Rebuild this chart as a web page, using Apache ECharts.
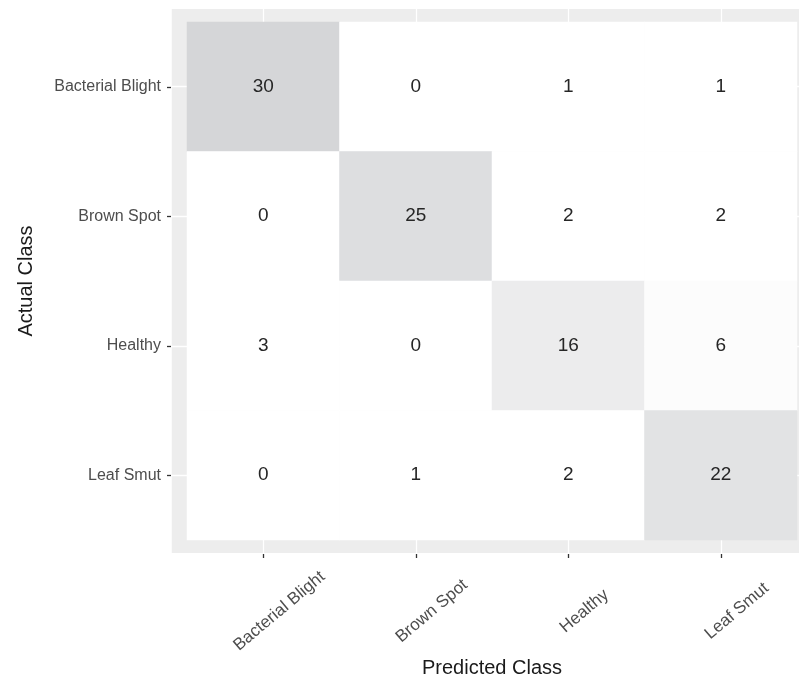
<!DOCTYPE html>
<html>
<head>
<meta charset="utf-8">
<script src="https://cdn.jsdelivr.net/npm/echarts@6/dist/echarts.min.js"></script>
<style>html,body{margin:0;padding:0;background:#fff}#chart{width:799px;height:681px}</style>
</head>
<body>
<div id="chart"></div>
<script>
// ---- data ----
var predictedClasses = ['Bacterial Blight', 'Brown Spot', 'Healthy', 'Leaf Smut'];
var actualClasses = ['Bacterial Blight', 'Brown Spot', 'Healthy', 'Leaf Smut'];
var rowBacterialBlight = [30, 0, 1, 1];
var rowBrownSpot = [0, 25, 2, 2];
var rowHealthy = [3, 0, 16, 6];
var rowLeafSmut = [0, 1, 2, 22];
var xTitle = 'Predicted Class';
var yTitle = 'Actual Class';

var rows = [rowBacterialBlight, rowBrownSpot, rowHealthy, rowLeafSmut];
var heatData = [];
rows.forEach(function (row, yi) {
  row.forEach(function (v, xi) { heatData.push([xi, yi, v]); });
});

// ---- layout ----
var FONT = '"Liberation Sans", Arial, sans-serif';
var cellL = 187, cellR = 797, cellT = 22, cellB = 540;
var uW = (cellR - cellL) / 4, uH = (cellB - cellT) / 4;
var padX = 0.1 * uW, padY = 0.1 * uH;
var panel = { left: cellL - padX, top: cellT - padY, width: (cellR - cellL) + 2 * padX, height: (cellB - cellT) + 2 * padY };
var tenths = Array.from({ length: 43 }, function (_, i) { return String(i); });
var gridFn = function (idx) { return idx >= 6 && (idx - 6) % 10 === 0; };

var chart = echarts.init(document.getElementById('chart'), null, { renderer: 'canvas' });
chart.setOption({
  backgroundColor: '#ffffff',
  animation: false,
  grid: [
    { left: panel.left, top: panel.top, width: panel.width, height: panel.height,
      show: true, backgroundColor: '#ededed', borderWidth: 0, containLabel: false, outerBoundsMode: 'none' },
    { left: cellL, top: cellT, width: cellR - cellL, height: cellB - cellT, show: false,
      containLabel: false, outerBoundsMode: 'none' }
  ],
  xAxis: [
    { gridIndex: 0, type: 'category', data: tenths, boundaryGap: false,
      axisLine: { show: false }, axisTick: { show: false }, axisLabel: { show: false },
      splitLine: { show: true, interval: gridFn, lineStyle: { color: '#ffffff', width: 1.3 } } },
    { gridIndex: 1, type: 'category', data: predictedClasses, position: 'bottom', offset: 14,
      axisLine: { show: false },
      axisTick: { show: true, alignWithLabel: true, length: 4, lineStyle: { color: '#333333', width: 1.3 } },
      splitLine: { show: false },
      axisLabel: { interval: 0, rotate: 40, align: 'center', verticalAlign: 'middle', margin: 38,
        lineHeight: 50, color: '#4d4d4d', fontSize: 17, fontFamily: FONT, hideOverlap: false,
        formatter: function (v) { return '\n' + v; } },
      name: xTitle, nameLocation: 'middle', nameGap: 104, nameMoveOverlap: false,
      nameTextStyle: { color: '#1a1a1a', fontSize: 20, fontFamily: FONT } }
  ],
  yAxis: [
    { gridIndex: 0, type: 'category', data: tenths, boundaryGap: false, inverse: true,
      axisLine: { show: false }, axisTick: { show: false }, axisLabel: { show: false },
      splitLine: { show: true, interval: gridFn, lineStyle: { color: '#ffffff', width: 1.3 } } },
    { gridIndex: 1, type: 'category', data: actualClasses, inverse: true, position: 'left', offset: 16,
      axisLine: { show: false },
      axisTick: { show: true, alignWithLabel: true, length: 4, lineStyle: { color: '#333333', width: 1.3 } },
      splitLine: { show: false },
      axisLabel: { interval: 0, margin: 10, color: '#4d4d4d', fontSize: 16, fontFamily: FONT },
      name: yTitle, nameLocation: 'middle', nameGap: 135, nameMoveOverlap: false,
      nameTextStyle: { color: '#1a1a1a', fontSize: 20, fontFamily: FONT } }
  ],
  visualMap: {
    type: 'continuous', show: false, min: 4, max: 30, seriesIndex: 0,
    inRange: { color: ['#ffffff', '#d5d6d8'] },
    outOfRange: { color: '#ffffff' }
  },
  series: [{
    type: 'heatmap', xAxisIndex: 1, yAxisIndex: 1, data: heatData,
    label: { show: true, color: '#262626', fontSize: 19, fontFamily: FONT,
      formatter: function (p) { return p.value[2]; } },
    itemStyle: { borderWidth: 0 },
    emphasis: { disabled: true }
  }]
});
</script>
</body>
</html>
